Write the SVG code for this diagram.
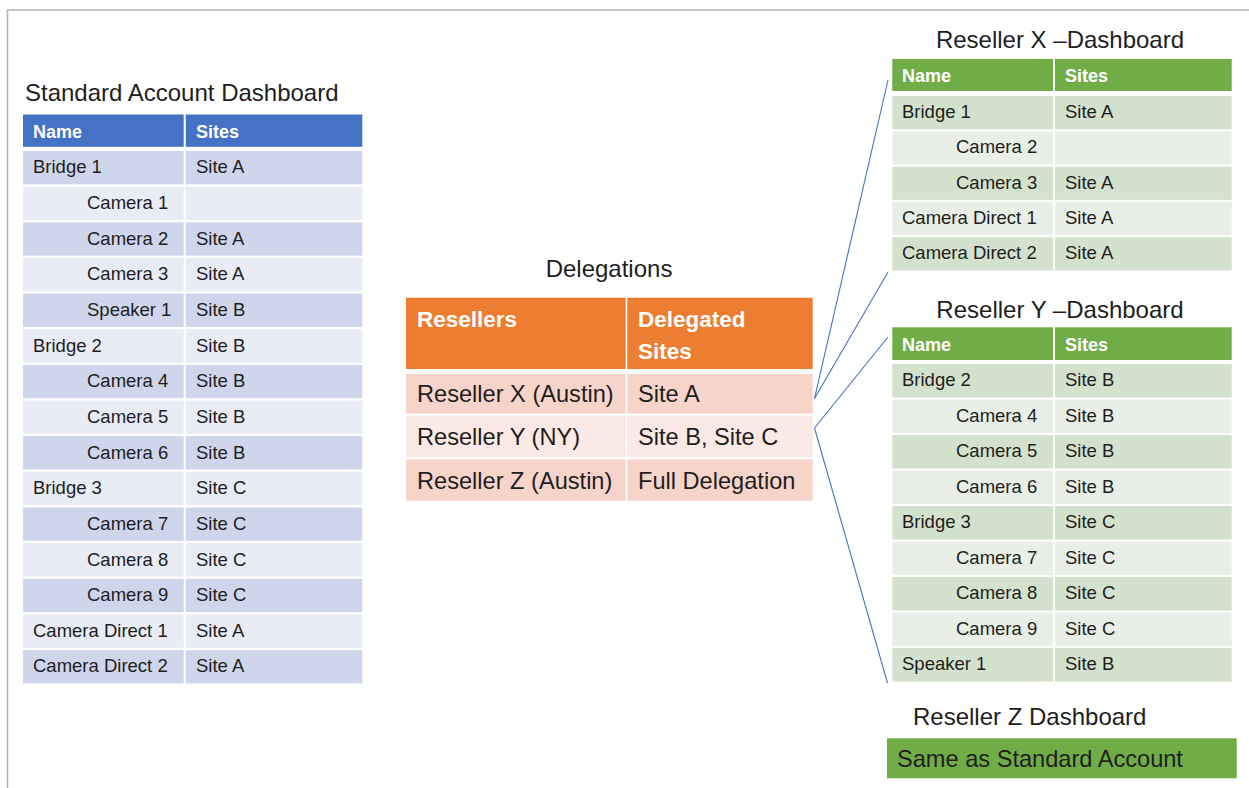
<svg xmlns="http://www.w3.org/2000/svg" width="1249" height="788" viewBox="0 0 1249 788">
<style>
text{font-family:"Liberation Sans",Arial,sans-serif;fill:#1e1e1e}
.title{font-size:24px}
.t{font-size:18.5px}
.h{font-size:18px;font-weight:bold;fill:#fff}
.dt{font-size:23.6px}
.dh{font-size:22.5px;font-weight:bold;fill:#fff}
.bh{fill:#4472C4}.bd{fill:#CFD5EA}.bl{fill:#E9EBF5}
.gh{fill:#70AD47}.gd{fill:#D3E2CD}.gl{fill:#E9EFE6}
.oh{fill:#ED7D31}.od{fill:#F7D4CA}.ol{fill:#FBE9E5}
.conn{stroke:#4472C4;stroke-width:1.1;fill:none}
</style>
<g id="frame"><path d="M7.5,788 V10 H1249" fill="none" stroke="#b4b4b4" stroke-width="1.6"/></g>

<g id="standard">
<text class="title" x="25" y="101">Standard Account Dashboard</text>
<rect class="bh" x="23" y="114.5" width="160.7" height="32.3"/><rect class="bh" x="185.7" y="114.5" width="176.6" height="32.3"/>
<text class="h" x="33" y="138">Name</text><text class="h" x="196" y="138">Sites</text>
<rect class="bd" x="23" y="151" width="160.7" height="33.3"/><rect class="bd" x="185.7" y="151" width="176.6" height="33.3"/>
<text class="t" x="33" y="173.3">Bridge 1</text><text class="t" x="196" y="173.3">Site A</text>
<rect class="bl" x="23" y="186.65" width="160.7" height="33.3"/><rect class="bl" x="185.7" y="186.65" width="176.6" height="33.3"/>
<text class="t" x="87" y="209">Camera 1</text>
<rect class="bd" x="23" y="222.3" width="160.7" height="33.3"/><rect class="bd" x="185.7" y="222.3" width="176.6" height="33.3"/>
<text class="t" x="87" y="244.6">Camera 2</text><text class="t" x="196" y="244.6">Site A</text>
<rect class="bl" x="23" y="257.95" width="160.7" height="33.3"/><rect class="bl" x="185.7" y="257.95" width="176.6" height="33.3"/>
<text class="t" x="87" y="280.3">Camera 3</text><text class="t" x="196" y="280.3">Site A</text>
<rect class="bd" x="23" y="293.6" width="160.7" height="33.3"/><rect class="bd" x="185.7" y="293.6" width="176.6" height="33.3"/>
<text class="t" x="87" y="315.9">Speaker 1</text><text class="t" x="196" y="315.9">Site B</text>
<rect class="bl" x="23" y="329.25" width="160.7" height="33.3"/><rect class="bl" x="185.7" y="329.25" width="176.6" height="33.3"/>
<text class="t" x="33" y="351.6">Bridge 2</text><text class="t" x="196" y="351.6">Site B</text>
<rect class="bd" x="23" y="364.9" width="160.7" height="33.3"/><rect class="bd" x="185.7" y="364.9" width="176.6" height="33.3"/>
<text class="t" x="87" y="387.2">Camera 4</text><text class="t" x="196" y="387.2">Site B</text>
<rect class="bl" x="23" y="400.55" width="160.7" height="33.3"/><rect class="bl" x="185.7" y="400.55" width="176.6" height="33.3"/>
<text class="t" x="87" y="422.9">Camera 5</text><text class="t" x="196" y="422.9">Site B</text>
<rect class="bd" x="23" y="436.2" width="160.7" height="33.3"/><rect class="bd" x="185.7" y="436.2" width="176.6" height="33.3"/>
<text class="t" x="87" y="458.5">Camera 6</text><text class="t" x="196" y="458.5">Site B</text>
<rect class="bl" x="23" y="471.85" width="160.7" height="33.3"/><rect class="bl" x="185.7" y="471.85" width="176.6" height="33.3"/>
<text class="t" x="33" y="494.2">Bridge 3</text><text class="t" x="196" y="494.2">Site C</text>
<rect class="bd" x="23" y="507.5" width="160.7" height="33.3"/><rect class="bd" x="185.7" y="507.5" width="176.6" height="33.3"/>
<text class="t" x="87" y="529.8">Camera 7</text><text class="t" x="196" y="529.8">Site C</text>
<rect class="bl" x="23" y="543.15" width="160.7" height="33.3"/><rect class="bl" x="185.7" y="543.15" width="176.6" height="33.3"/>
<text class="t" x="87" y="565.5">Camera 8</text><text class="t" x="196" y="565.5">Site C</text>
<rect class="bd" x="23" y="578.8" width="160.7" height="33.3"/><rect class="bd" x="185.7" y="578.8" width="176.6" height="33.3"/>
<text class="t" x="87" y="601.1">Camera 9</text><text class="t" x="196" y="601.1">Site C</text>
<rect class="bl" x="23" y="614.45" width="160.7" height="33.3"/><rect class="bl" x="185.7" y="614.45" width="176.6" height="33.3"/>
<text class="t" x="33" y="636.8">Camera Direct 1</text><text class="t" x="196" y="636.8">Site A</text>
<rect class="bd" x="23" y="650.1" width="160.7" height="33.3"/><rect class="bd" x="185.7" y="650.1" width="176.6" height="33.3"/>
<text class="t" x="33" y="672.4">Camera Direct 2</text><text class="t" x="196" y="672.4">Site A</text>
</g>

<g id="delegations">
<text class="title" x="609" y="276.5" text-anchor="middle">Delegations</text>
<rect class="oh" x="406" y="297.7" width="219.7" height="71.3"/><rect class="oh" x="627.3" y="297.7" width="185.4" height="71.3"/>
<text class="dh" x="417" y="327">Resellers</text>
<text class="dh" x="638" y="327">Delegated</text><text class="dh" x="638" y="358.5">Sites</text>
<rect class="od" x="406" y="374" width="219.7" height="39.5"/><rect class="od" x="627.3" y="374" width="185.4" height="39.5"/>
<text class="dt" x="417" y="401.7">Reseller X (Austin)</text><text class="dt" x="638" y="401.7">Site A</text>
<rect class="ol" x="406" y="415.7" width="219.7" height="41.6"/><rect class="ol" x="627.3" y="415.7" width="185.4" height="41.6"/>
<text class="dt" x="417" y="445">Reseller Y (NY)</text><text class="dt" x="638" y="445">Site B, Site C</text>
<rect class="od" x="406" y="459.3" width="219.7" height="41.4"/><rect class="od" x="627.3" y="459.3" width="185.4" height="41.4"/>
<text class="dt" x="417" y="488.5">Reseller Z (Austin)</text><text class="dt" x="638" y="488.5">Full Delegation</text>
</g>

<g id="resellerX">
<text class="title" x="1060" y="47.5" text-anchor="middle">Reseller X –Dashboard</text>
<rect class="gh" x="892.3" y="59" width="160.7" height="32"/><rect class="gh" x="1055" y="59" width="176.7" height="32"/>
<text class="h" x="902" y="82.3">Name</text><text class="h" x="1065" y="82.3">Sites</text>
<rect class="gd" x="892.3" y="96" width="160.7" height="33.3"/><rect class="gd" x="1055" y="96" width="176.7" height="33.3"/>
<text class="t" x="902" y="118">Bridge 1</text><text class="t" x="1065" y="118">Site A</text>
<rect class="gl" x="892.3" y="131.3" width="160.7" height="33.3"/><rect class="gl" x="1055" y="131.3" width="176.7" height="33.3"/>
<text class="t" x="956" y="153.3">Camera 2</text>
<rect class="gd" x="892.3" y="166.6" width="160.7" height="33.3"/><rect class="gd" x="1055" y="166.6" width="176.7" height="33.3"/>
<text class="t" x="956" y="188.6">Camera 3</text><text class="t" x="1065" y="188.6">Site A</text>
<rect class="gl" x="892.3" y="201.9" width="160.7" height="33.3"/><rect class="gl" x="1055" y="201.9" width="176.7" height="33.3"/>
<text class="t" x="902" y="223.9">Camera Direct 1</text><text class="t" x="1065" y="223.9">Site A</text>
<rect class="gd" x="892.3" y="237.2" width="160.7" height="33.3"/><rect class="gd" x="1055" y="237.2" width="176.7" height="33.3"/>
<text class="t" x="902" y="259.2">Camera Direct 2</text><text class="t" x="1065" y="259.2">Site A</text>
</g>

<g id="resellerY">
<text class="title" x="1060" y="318.3" text-anchor="middle">Reseller Y –Dashboard</text>
<rect class="gh" x="892.3" y="327.3" width="160.7" height="32.7"/><rect class="gh" x="1055" y="327.3" width="176.7" height="32.7"/>
<text class="h" x="902" y="350.7">Name</text><text class="h" x="1065" y="350.7">Sites</text>
<rect class="gd" x="892.3" y="364" width="160.7" height="33.5"/><rect class="gd" x="1055" y="364" width="176.7" height="33.5"/>
<text class="t" x="902" y="386.3">Bridge 2</text><text class="t" x="1065" y="386.3">Site B</text>
<rect class="gl" x="892.3" y="399.5" width="160.7" height="33.5"/><rect class="gl" x="1055" y="399.5" width="176.7" height="33.5"/>
<text class="t" x="956" y="421.8">Camera 4</text><text class="t" x="1065" y="421.8">Site B</text>
<rect class="gd" x="892.3" y="435" width="160.7" height="33.5"/><rect class="gd" x="1055" y="435" width="176.7" height="33.5"/>
<text class="t" x="956" y="457.3">Camera 5</text><text class="t" x="1065" y="457.3">Site B</text>
<rect class="gl" x="892.3" y="470.5" width="160.7" height="33.5"/><rect class="gl" x="1055" y="470.5" width="176.7" height="33.5"/>
<text class="t" x="956" y="492.8">Camera 6</text><text class="t" x="1065" y="492.8">Site B</text>
<rect class="gd" x="892.3" y="506" width="160.7" height="33.5"/><rect class="gd" x="1055" y="506" width="176.7" height="33.5"/>
<text class="t" x="902" y="528.3">Bridge 3</text><text class="t" x="1065" y="528.3">Site C</text>
<rect class="gl" x="892.3" y="541.5" width="160.7" height="33.5"/><rect class="gl" x="1055" y="541.5" width="176.7" height="33.5"/>
<text class="t" x="956" y="563.8">Camera 7</text><text class="t" x="1065" y="563.8">Site C</text>
<rect class="gd" x="892.3" y="577" width="160.7" height="33.5"/><rect class="gd" x="1055" y="577" width="176.7" height="33.5"/>
<text class="t" x="956" y="599.3">Camera 8</text><text class="t" x="1065" y="599.3">Site C</text>
<rect class="gl" x="892.3" y="612.5" width="160.7" height="33.5"/><rect class="gl" x="1055" y="612.5" width="176.7" height="33.5"/>
<text class="t" x="956" y="634.8">Camera 9</text><text class="t" x="1065" y="634.8">Site C</text>
<rect class="gd" x="892.3" y="648" width="160.7" height="33.5"/><rect class="gd" x="1055" y="648" width="176.7" height="33.5"/>
<text class="t" x="902" y="670.3">Speaker 1</text><text class="t" x="1065" y="670.3">Site B</text>
</g>

<g id="resellerZ">
<text class="title" x="913" y="724.5">Reseller Z Dashboard</text>
<rect class="gh" x="887" y="738.3" width="349.7" height="40"/>
<text class="dt" x="897" y="767">Same as Standard Account</text>
</g>

<g id="connectors">
<line class="conn" x1="814.5" y1="398.5" x2="888" y2="80"/>
<line class="conn" x1="814.5" y1="398.5" x2="888" y2="272"/>
<line class="conn" x1="814.5" y1="428" x2="888" y2="337"/>
<line class="conn" x1="814.5" y1="428" x2="887.5" y2="683"/>
</g>
</svg>
